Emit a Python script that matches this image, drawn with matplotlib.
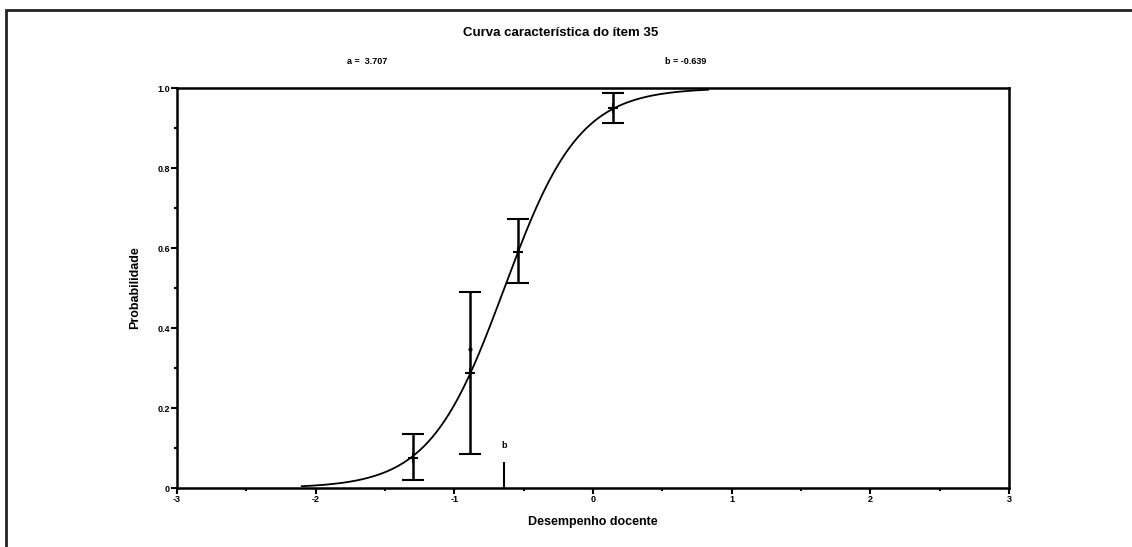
import numpy as np
import matplotlib
matplotlib.use("Agg")
import matplotlib.pyplot as plt
from matplotlib.patches import Rectangle
from matplotlib.ticker import MultipleLocator, FixedLocator

# item parameters
a_param = 3.707
b_param = -0.639

# observed points with error bars
obs_x = [-1.296, -0.884, -0.538, 0.141]
obs_p = [0.075, 0.2875, 0.59, 0.95]
err_low = [0.02, 0.085, 0.5125, 0.9125]
err_high = [0.135, 0.49, 0.6725, 0.9875]
extra_dot_x = [-0.884]
extra_dot_p = [0.347]

curve_start = -2.1
curve_end = 0.83

x_ticks = [-3, -2, -1, 0, 1, 2, 3]
y_ticks = [0, 0.2, 0.4, 0.6, 0.8, 1.0]
y_labels = ["0", "0.2", "0.4", "0.6", "0.8", "1.0"]

plt.rcParams["font.family"] = ["Liberation Sans", "DejaVu Sans"]
plt.rcParams["font.weight"] = "bold"
plt.rcParams["axes.unicode_minus"] = False

fig = plt.figure(figsize=(11.32, 5.47), dpi=100)
ax = fig.add_axes([177 / 1132, 59 / 547, 832 / 1132, 400 / 547])

# outer frame of the original picture
fig.patches.append(Rectangle((6 / 1132, -0.1), 1.2, 1 - 10 / 547 + 0.1,
                             transform=fig.transFigure, fill=False,
                             edgecolor="#222222", linewidth=2))

xs = np.linspace(curve_start, curve_end, 400)
ps = 1.0 / (1.0 + np.exp(-a_param * (xs - b_param)))
ax.plot(xs, ps, color="black", linewidth=1.3)

p = np.array(obs_p)
yerr = [p - np.array(err_low), np.array(err_high) - p]
ax.errorbar(obs_x, obs_p, yerr=yerr, fmt="+", color="black", markersize=7,
            elinewidth=1.8, capsize=8, capthick=1.8, markeredgewidth=1.5)
ax.plot(extra_dot_x, extra_dot_p, "o", color="black", markersize=2)

# marker of the difficulty parameter
ax.vlines(b_param, 0, 0.065, color="black", linewidth=1.5)
ax.text(b_param, 0.095, "b", ha="center", va="bottom", fontsize=6.5,
        fontweight="bold")

ax.set_xlim(-3, 3)
ax.set_ylim(0, 1)
ax.xaxis.set_major_locator(FixedLocator(x_ticks))
ax.xaxis.set_minor_locator(MultipleLocator(0.5))
ax.yaxis.set_major_locator(FixedLocator(y_ticks))
ax.set_yticklabels(y_labels)
ax.yaxis.set_minor_locator(MultipleLocator(0.1))
ax.tick_params(which="both", direction="out", labelsize=6.5, width=1.5,
               pad=1)
ax.tick_params(which="major", length=4)
ax.tick_params(which="minor", length=2.5)
for lab in ax.get_xticklabels() + ax.get_yticklabels():
    lab.set_fontweight("bold")
for sp in ax.spines.values():
    sp.set_linewidth(1.8)

ax.set_xlabel("Desempenho docente", fontsize=9, fontweight="bold", labelpad=9)
ax.set_ylabel("Probabilidade", fontsize=9, fontweight="bold", labelpad=12)

fig.text(561 / 1132, 1 - 33 / 547, "Curva característica do ítem 35",
         ha="center", va="center", fontsize=9.5, fontweight="bold")
fig.text(347 / 1132, 1 - 62 / 547, "a =  3.707", ha="left", va="center",
         fontsize=6.5, fontweight="bold")
fig.text(665 / 1132, 1 - 62 / 547, "b = -0.639", ha="left", va="center",
         fontsize=6.5, fontweight="bold")

fig.savefig("out.png", dpi=100)
